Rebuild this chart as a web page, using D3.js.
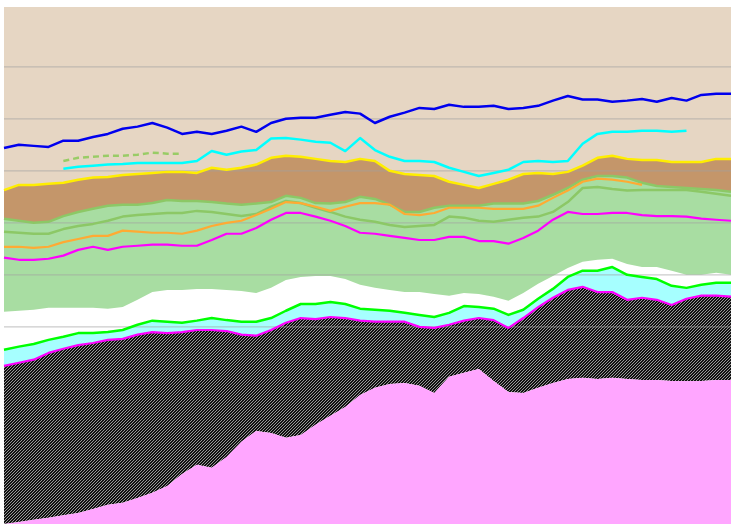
<!DOCTYPE html>
<html>
<head>
<meta charset="utf-8">
<script src="https://cdn.jsdelivr.net/npm/d3@7"></script>
<style>
  body { margin: 0; background: #fff; }
</style>
</head>
<body>
<div id="viz"></div>
<script>
// one value per period, 50 periods
var blueLine = [74.4,75.0,74.8,74.6,75.8,75.8,76.5,77.1,78.1,78.5,79.2,78.3,77.1,77.5,77.1,77.7,78.5,77.5,79.2,80.0,
                80.2,80.2,80.8,81.3,81.0,79.2,80.4,81.2,82.1,81.9,82.7,82.3,82.3,82.5,81.9,82.1,82.5,83.5,84.4,83.7,
                83.7,83.3,83.5,83.8,83.3,84.0,83.5,84.6,84.8,84.8];
var cyanLine = [null,null,null,null,70.4,70.8,71.0,71.2,71.3,71.5,71.5,71.5,71.5,71.9,73.8,73.1,73.7,74.0,76.2,76.3,
                76.0,75.6,75.4,73.8,76.3,74.0,72.7,71.9,71.9,71.7,70.6,69.8,69.0,69.6,70.2,71.7,71.9,71.7,71.9,75.2,
                77.1,77.5,77.5,77.7,77.7,77.5,77.7,null,null,null];
var dashedLine = [null,null,null,null,71.9,72.5,72.7,72.9,72.9,73.1,73.5,73.3,73.3,null,null,null,null,null,null,null,
                null,null,null,null,null,null,null,null,null,null,null,null,null,null,null,null,null,null,null,null,
                null,null,null,null,null,null,null,null,null,null];
var yellowLine = [66.3,67.3,67.3,67.5,67.7,68.3,68.7,68.8,69.2,69.4,69.6,69.8,69.8,69.6,70.6,70.2,70.6,71.2,72.5,72.9,
                72.7,72.3,71.9,71.7,72.3,71.9,70.0,69.4,69.2,69.0,67.9,67.3,66.7,67.5,68.3,69.4,69.6,69.4,69.8,71.0,
                72.5,72.9,72.3,72.1,72.1,71.7,71.7,71.7,72.3,72.3];
var greenTop = [60.8,60.4,60.0,60.2,61.3,62.1,62.7,63.3,63.5,63.5,63.8,64.4,64.2,64.2,64.0,63.7,63.5,63.7,64.0,65.2,
                64.8,63.8,63.7,64.0,65.0,64.6,63.5,62.1,62.1,62.9,63.3,63.3,63.3,63.7,63.7,63.7,64.2,65.4,66.7,68.3,
                69.0,69.0,68.7,67.7,67.1,66.9,66.7,66.5,66.3,66.0];
var greenMid = [58.3,58.1,57.9,57.9,58.8,59.4,59.8,60.4,61.2,61.5,61.7,61.9,61.9,62.3,62.1,61.7,61.3,61.7,63.1,64.2,
                63.8,62.9,62.1,61.2,60.6,60.2,59.6,59.2,59.4,59.6,61.2,61.0,60.4,60.2,60.6,61.0,61.2,62.1,64.0,66.7,
                66.9,66.5,66.2,66.3,66.3,66.3,66.3,66.0,65.6,65.2];
var orangeLine = [55.4,55.4,55.2,55.4,56.3,56.9,57.5,57.5,58.5,58.3,58.1,58.1,57.9,58.5,59.4,60.0,60.4,61.5,62.7,64.0,
                63.8,63.1,62.3,63.1,63.8,63.8,63.5,61.7,61.5,61.9,62.9,62.9,62.9,62.7,62.7,62.7,63.3,64.8,66.2,67.9,
                68.5,68.3,67.9,67.3,null,null,null,null,null,null];
var magentaLine = [53.3,52.9,52.9,53.1,53.7,54.8,55.4,54.8,55.4,55.6,55.8,55.8,55.6,55.6,56.7,57.9,57.9,59.0,60.6,61.9,
                61.9,61.2,60.4,59.4,58.1,57.9,57.5,57.1,56.7,56.7,57.3,57.3,56.5,56.5,56.0,57.1,58.5,60.6,62.1,61.7,
                61.7,61.9,61.9,61.5,61.3,61.3,61.2,60.8,60.6,60.4];
var greenBottom = [42.9,43.1,43.3,43.7,43.7,43.7,43.7,43.5,43.8,45.2,46.7,47.1,47.1,47.3,47.3,47.1,46.9,46.5,47.5,49.0,
                49.6,49.8,49.8,49.2,48.1,47.5,47.1,46.7,46.7,46.3,46.0,46.5,46.3,45.8,45.0,46.5,48.3,49.8,51.3,52.5,
                52.9,53.1,52.1,51.5,51.5,50.8,50.0,50.0,50.4,50.0];
var limeLine = [35.6,36.2,36.7,37.5,38.1,38.8,38.8,39.0,39.4,40.4,41.2,41.0,40.8,41.2,41.7,41.3,41.0,41.0,41.7,43.1,
                44.4,44.4,44.8,44.4,43.5,43.3,43.1,42.7,42.3,41.9,42.7,44.0,43.8,43.5,42.3,43.3,45.4,47.3,49.6,50.8,
                50.8,51.5,50.0,49.6,49.2,47.9,47.5,48.1,48.5,48.5];
var hatchTop = [32.5,33.1,33.7,35.0,35.8,36.5,36.9,37.5,37.7,38.5,39.0,38.8,39.0,39.4,39.4,39.2,38.5,38.3,39.4,40.8,
                41.7,41.5,41.9,41.7,41.2,41.0,41.0,41.0,40.0,39.8,40.4,41.2,41.7,41.3,39.8,41.7,43.8,45.6,47.1,47.7,
                46.7,46.7,45.2,45.6,45.2,44.2,45.4,46.0,46.0,45.8];
var pinkTop = [2.1,2.5,2.9,3.3,3.8,4.2,5.0,5.8,6.2,7.1,8.1,9.4,11.7,13.5,12.9,15.0,17.9,20.0,19.6,18.7,
                19.2,21.2,22.9,24.6,26.9,28.3,29.0,29.2,28.7,27.3,30.4,31.2,31.9,29.6,27.5,27.3,28.3,29.2,30.0,30.2,
                30.0,30.2,30.0,29.8,29.8,29.6,29.6,29.6,29.8,29.8];
var gridValues = [40, 50, 60, 70, 80, 90];

var W = 731, H = 524;
var yMin = 2.1, yMax = 101.5;

var x = d3.scaleLinear().domain([0, blueLine.length - 1]).range([4, 731]);
var y = d3.scaleLinear().domain([yMin, yMax]).range([524, 7]);

var svg = d3.select("#viz").append("svg")
    .attr("width", W)
    .attr("height", H);

// fine diagonal hatch for the dark band
var pat = svg.append("defs").append("pattern")
    .attr("id", "hatch")
    .attr("patternUnits", "userSpaceOnUse")
    .attr("width", 3)
    .attr("height", 3);
pat.append("rect").attr("width", 3).attr("height", 3).attr("fill", "#111");
pat.append("path").attr("d", "M0,3 L3,0 M-1,1 L1,-1 M2,4 L4,2")
    .attr("stroke", "#bbb").attr("stroke-width", 0.8);

function val(arr, i) { return typeof arr === "number" ? arr : arr[i]; }

function band(top, bottom, fill) {
  var area = d3.area()
      .x(function(d, i) { return x(i); })
      .y0(function(d, i) { return y(val(bottom, i)); })
      .y1(function(d, i) { return y(val(top, i)); });
  svg.append("path")
      .datum(blueLine)
      .attr("d", area)
      .attr("fill", fill)
      .attr("stroke", "none");
}

function line(data, color, width, dash) {
  var gen = d3.line()
      .defined(function(d) { return d != null; })
      .x(function(d, i) { return x(i); })
      .y(function(d) { return y(d); });
  svg.append("path")
      .datum(data)
      .attr("d", gen)
      .attr("fill", "none")
      .attr("stroke", color)
      .attr("stroke-width", width)
      .attr("stroke-linejoin", "round")
      .attr("stroke-dasharray", dash || null);
}

band(yMax, yellowLine, "#e6d6c3");
band(yellowLine, greenTop, "#c4966a");
band(greenTop, greenBottom, "#a8dda2");
band(limeLine, hatchTop, "#a6ffff");
band(hatchTop, pinkTop, "url(#hatch)");
band(pinkTop, yMin, "#ffa6ff");

svg.append("g").selectAll("line")
    .data(gridValues)
    .enter()
    .append("line")
    .attr("x1", 4).attr("x2", 731)
    .attr("y1", function(d) { return y(d); })
    .attr("y2", function(d) { return y(d); })
    .attr("stroke", "#a0a0a0")
    .attr("stroke-opacity", 0.55)
    .attr("stroke-width", 1.2);

line(greenMid, "#8cc866", 2.5);
line(greenTop, "#8cc866", 2.5);
line(orangeLine, "#ffaa33", 2.2);
line(magentaLine, "#ff00ff", 2.2);
line(dashedLine, "#99cc66", 2.5, "6,4");
line(cyanLine, "#00ffff", 2.5);
line(yellowLine, "#ffee00", 2.5);
line(blueLine, "#0000ee", 2.5);
line(limeLine, "#00ff00", 2.5);
line(hatchTop, "#ff00ff", 2.2);
</script>
</body>
</html>
